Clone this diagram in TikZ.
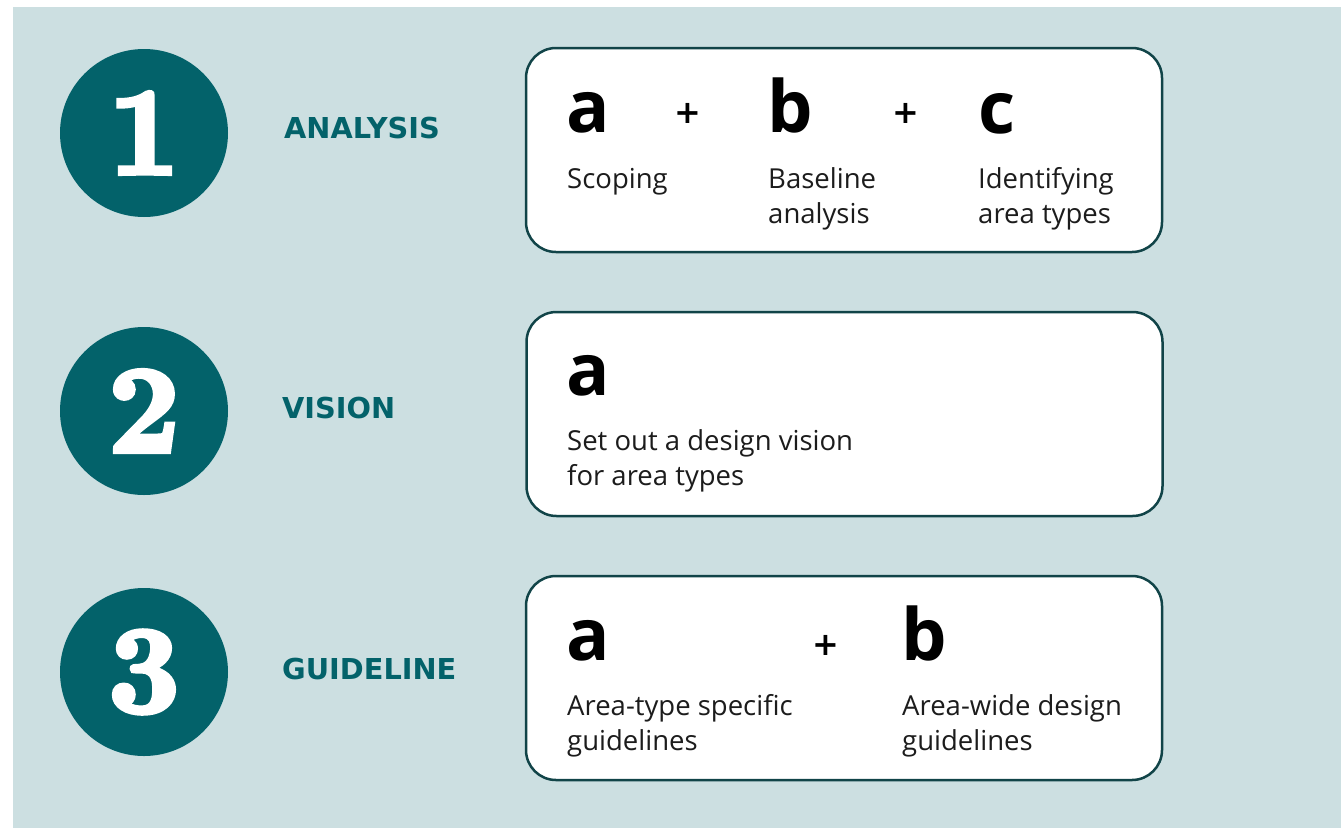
\documentclass[tikz,border=0pt]{standalone}
\usepackage{fontspec}
\newfontfamily\osans{Open Sans}
\newfontfamily\dvsans{DejaVu Sans}
\newfontfamily\digitfont{lmroman10-bold}[Extension=.otf, FakeBold=4]
\definecolor{bgblue}{HTML}{CCDFE1}
\definecolor{teal}{HTML}{03626A}
\definecolor{boxline}{HTML}{114448}
\definecolor{bodytext}{HTML}{1C1C1C}
\tikzset{
  circ/.style={circle, fill=teal, minimum size=168pt, inner sep=0pt, text=white,
    font=\digitfont\fontsize{124}{124}\selectfont},
  lab/.style={anchor=base west, inner sep=0pt, text=teal, font=\dvsans\bfseries\fontsize{28.8}{28.8}\selectfont},
  stepbox/.style={draw=boxline, line width=2.5pt, fill=white, rounded corners=30pt,
    minimum width=636pt, minimum height=204pt, inner sep=0pt},
  letter/.style={anchor=base west, inner sep=0pt, text=black, font=\osans\bfseries\fontsize{72}{72}\selectfont},
  plus/.style={inner sep=0pt, text=black, font=\dvsans\bfseries\fontsize{32}{32}\selectfont},
  body/.style={anchor=base west, inner sep=0pt, text=bodytext, font=\osans\fontsize{27.5}{27.5}\selectfont}
}
\begin{document}
\begin{tikzpicture}[x=1pt, y=-1pt]
\useasboundingbox (0,0) rectangle (1341,828);
\fill[bgblue] (13,7) rectangle (1341,828);
% row 1
\node[circ] (c1) at (144,133) {1};
\node[lab] (l1) at (284,138) {ANALYSIS};
\node[stepbox] (box1) at (844,150) {};
\node[letter] (a1) at (566,132) {a};
\node[plus] (p1a) at (688,113) {+};
\node[letter] (b1) at (767,132) {b};
\node[plus] (p1b) at (906,113) {+};
\node[letter] (cc1) at (978,133) {c};
\node[body] (t1a) at (567,188) {Scoping};
\node[body] (t1b) at (768,188) {Baseline};
\node[body] (t1c) at (768,223) {analysis};
\node[body] (t1d) at (978,188) {Identifying};
\node[body] (t1e) at (978,223) {area types};
% row 2
\node[circ] (c2) at (144,411) {2};
\node[lab] (l2) at (282,418) {VISION};
\node[stepbox] (box2) at (844.5,414) {};
\node[letter] (a2) at (566,395) {a};
\node[body] (t2a) at (567,450) {Set out a design vision};
\node[body] (t2b) at (567,485) {for area types};
% row 3
\node[circ] (c3) at (144,672) {3};
\node[lab] (l3) at (282,679) {GUIDELINE};
\node[stepbox] (box3) at (844,678) {};
\node[letter] (a3) at (566,660) {a};
\node[plus] (p3) at (826,645) {+};
\node[letter] (b3) at (901,660) {b};
\node[body] (t3a) at (567,715) {Area-type specific};
\node[body] (t3b) at (567,750) {guidelines};
\node[body] (t3c) at (902,715) {Area-wide design};
\node[body] (t3d) at (902,750) {guidelines};
\end{tikzpicture}
\end{document}
